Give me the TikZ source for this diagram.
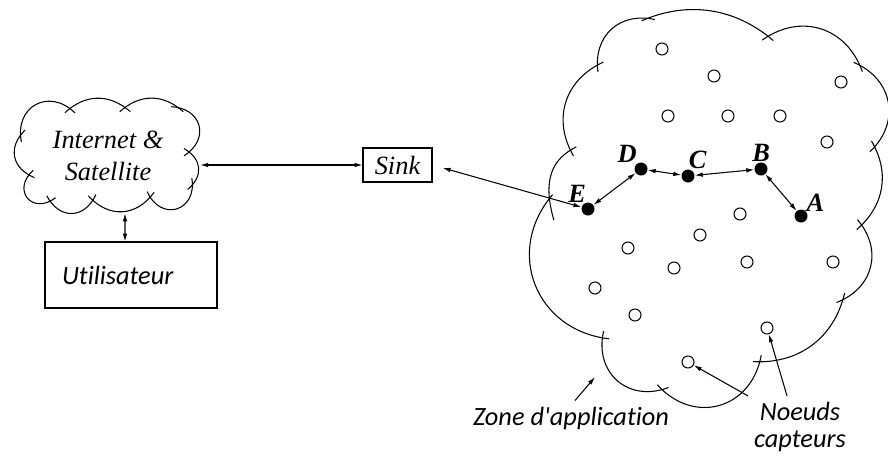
\documentclass[tikz,border=0pt]{standalone}
\usepackage{fontspec}
\setmainfont{Liberation Serif}
\newfontfamily\calib[Ligatures=NoCommon]{Carlito}
\usetikzlibrary{arrows.meta}

\begin{document}
\begin{tikzpicture}[x=0.02cm, y=0.02cm, >={Latex[length=4.5pt,width=2.6pt]},
	puff/.style={line width=0.6pt, shorten <=-4pt, shorten >=-4pt},
	link/.style={<->, line width=0.6pt},
	pointer/.style={->, line width=0.6pt},
	rectbox/.style={draw, line width=0.6pt, inner sep=0pt},
	sensor/.style={circle, draw, line width=0.6pt, minimum size=0.24cm, inner sep=0pt},
	active/.style={circle, fill=black, minimum size=0.26cm, inner sep=0pt, label distance=1.5pt},
	letter/.style={font=\fontsize{15}{15}\selectfont\bfseries\itshape, inner sep=0pt},
	serif/.style={font=\fontsize{15}{18}\selectfont\itshape},
	sans/.style={font=\fontsize{15}{15.5}\selectfont\calib\itshape}]
			%%%%% START %%%%%
			\useasboundingbox (0,0) rectangle (888,-457);
			
			% Internet & Satellite
			\draw[puff] (20,-135) to[bend left=73, looseness=1.32] (70,-108);
			\draw[puff] (70,-108) to[bend left=42, looseness=0.97] (125,-107);
			\draw[puff] (125,-107) to[bend left=42, looseness=0.97] (178,-107);
			\draw[puff] (178,-107) to[bend left=73, looseness=1.32] (190,-152);
			\draw[puff] (190,-152) to[bend left=55, looseness=1.08] (193,-185);
			\draw[puff] (193,-185) to[bend left=83, looseness=1.52] (150,-198);
			\draw[puff] (150,-198) to[bend left=51, looseness=1.05] (93,-201);
			\draw[puff] (93,-201) to[bend left=64, looseness=1.2] (50,-202);
			\draw[puff] (50,-202) to[bend left=88, looseness=1.65] (28,-175);
			\draw[puff] (28,-175) to[bend left=57, looseness=1.1] (20,-135);
			\node[serif, align=center, minimum width=3.68cm, minimum height=2.28cm] (net) at (108,-156) {Internet \&\\Satellite};
			
			\node[rectbox, sans, text width=2.76cm, inner xsep=0.34cm, minimum height=1.32cm] (user) at (131,-275) {Utilisateur};
			\node[rectbox, serif, minimum width=1.38cm, minimum height=0.68cm] (sink) at (397.5,-165) {Sink};
			
			% zone d'application
			\draw[puff, shorten <=-12pt] (548,-200) to[bend left=40, looseness=0.96] (570,-150);
			\draw[puff] (570,-150) to[bend left=48, looseness=1.02] (597,-65);
			\draw[puff] (597,-65) to[bend left=55, looseness=1.08] (648,-18);
			\draw[puff] (648,-18) to[bend left=32, looseness=0.92] (768,-36);
			\draw[puff] (768,-36) to[bend left=53, looseness=1.07] (860,-65);
			\draw[puff] (860,-65) to[bend left=57, looseness=1.1] (875,-147);
			\draw[puff] (875,-147) to[bend left=40, looseness=0.96] (862,-225);
			\draw[puff] (862,-225) to[bend left=55, looseness=1.08] (843,-300);
			\draw[puff] (843,-300) to[bend left=40, looseness=0.96] (760,-362);
			\draw[puff] (760,-362) to[bend left=64, looseness=1.2] (662,-390);
			\draw[puff] (662,-390) to[bend left=62, looseness=1.16] (602,-338);
			\draw[puff] (602,-338) to[bend left=62, looseness=1.16] (548,-200);
			
			\node[sensor] (n1) at (662,-49) {};
			\node[sensor] (n2) at (714,-76) {};
			\node[sensor] (n3) at (841,-82) {};
			\node[sensor] (n4) at (668,-116) {};
			\node[sensor] (n5) at (728,-116) {};
			\node[sensor] (n6) at (780,-116) {};
			\node[sensor] (n7) at (827,-142) {};
			\node[sensor] (n8) at (740,-214) {};
			\node[sensor] (n9) at (700,-235) {};
			\node[sensor] (n10) at (628,-248) {};
			\node[sensor] (n11) at (674,-268) {};
			\node[sensor] (n12) at (747,-262) {};
			\node[sensor] (n13) at (833,-262) {};
			\node[sensor] (n14) at (595,-288) {};
			\node[sensor] (n15) at (767,-328) {};
			\node[sensor] (n16) at (635,-315) {};
			\node[sensor] (n17) at (688,-362) {};
			
			\node[active, label={[letter]105:E}] (E) at (588,-209) {};
			\node[active, label={[letter]125:D}] (D) at (641,-169) {};
			\node[active, label={[letter]85:C}] (C) at (688,-176) {};
			\node[active, label={[letter]88:B}] (B) at (761,-169) {};
			\node[active, label={[letter]40:A}] (A) at (801,-216) {};
			
			\draw[link] (net.east |- sink.west) -- (sink.west);
			\draw[link] ([xshift=0.34cm]net.south) -- ([xshift=-0.12cm]user.north);
			\draw[link, shorten <=6pt] (sink.east) -- (E);
			\draw[link] (E) -- (D);
			\draw[link] (D) -- (C);
			\draw[link] (C) -- (B);
			\draw[link] (B) -- (A);
			
			\node[sans] (zone) at (571,-418) {Zone d\textquotesingle application};
			\coordinate (zoneend) at (595,-377);
			\draw[pointer] ([xshift=0.08cm]zone.north) -- (zoneend);
			
			\node[sans, align=center] (capt) at (800,-427) {Noeuds\\capteurs};
			\draw[pointer] (capt.north west) -- (n17);
			\draw[pointer] ([xshift=-0.26cm]capt.north) -- (n15);
			%%%%% END %%%%%
\end{tikzpicture}
\end{document}
